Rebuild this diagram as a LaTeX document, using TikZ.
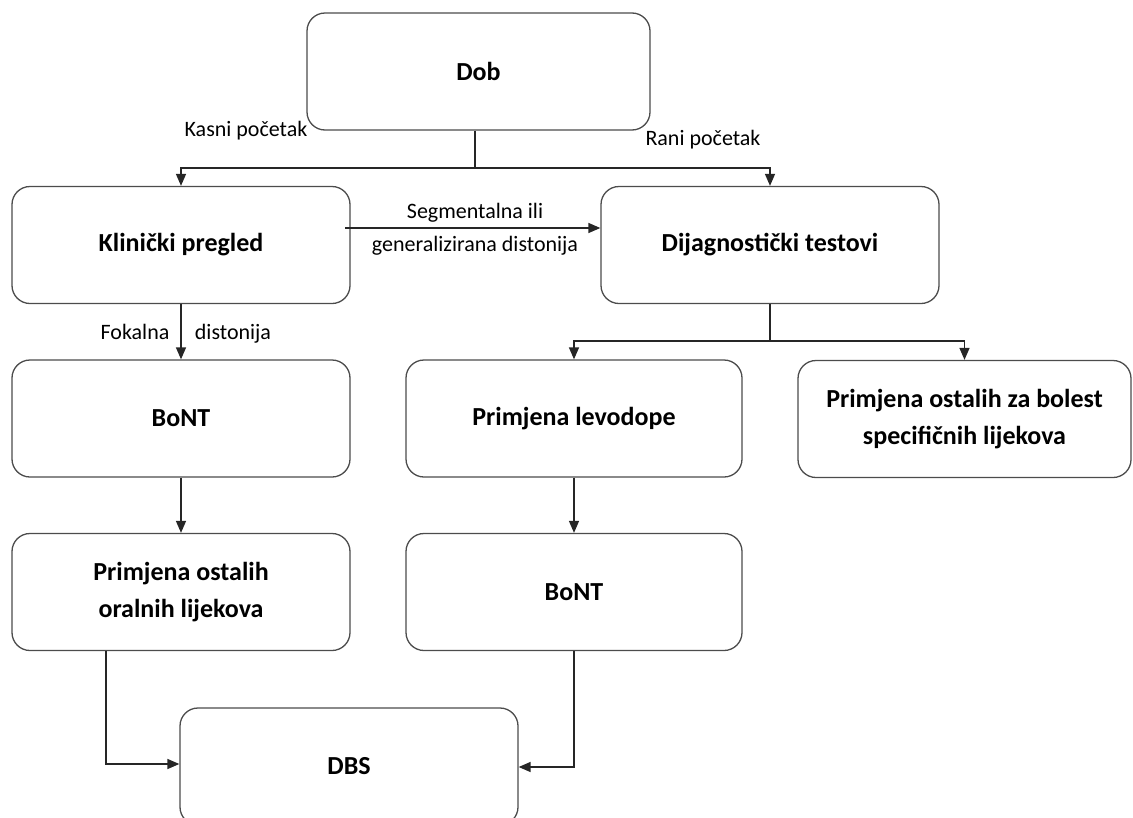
\documentclass[tikz,border=0pt]{standalone}
\usepackage{fontspec}
\setmainfont{Carlito}
\usetikzlibrary{arrows.meta}
\tikzset{
  box/.style={draw=black!70, line width=1.3pt, rounded corners=18pt, fill=white,
    minimum width=#1, minimum height=117pt, inner sep=0pt, align=center,
    font={\bfseries\fontsize{26}{37}\selectfont}},
  box/.default=338pt,
  lbl/.style={inner sep=0pt, text height=0.65em, text depth=0pt,
    font={\fontsize{22}{26}\selectfont}},
  conn/.style={draw=black!85, line width=1.5pt},
  arr/.style={conn, -{Triangle[length=12pt,width=10pt]}}
}
\begin{document}
\begin{tikzpicture}[x=1pt,y=-1pt]
\useasboundingbox (0,0) rectangle (1133,817);

% boxes
\node[box=343pt] (dob) at (478.5,71.5) {Dob};
\node[box] (klin) at (181,245) {Klinički pregled};
\node[box] (dij) at (770,245) {Dijagnostički testovi};
\node[box] (bont1) at (181,418.5) {BoNT};
\node[box=336pt] (levo) at (574,418.5) {Primjena levodope};
\node[box=333pt] (spec) at (964.5,419) {Primjena ostalih za bolest\\specifičnih lijekova};
\node[box] (oral) at (181,592) {Primjena ostalih\\oralnih lijekova};
\node[box=336pt] (bont2) at (574,592) {BoNT};
\node[box] (dbs) at (349,766.5) {DBS};

% labels
\node[lbl] (kasni) at (246,133) {Kasni početak};
\node[lbl] (rani) at (703,142) {Rani početak};
\node[lbl] (seg1) at (475,215) {Segmentalna ili};
\node[lbl] (seg2) at (475,248) {generalizirana distonija};
\node[lbl] (fok) at (135,336) {Fokalna};
\node[lbl] (dist) at (233,336) {distonija};

% connectors
\coordinate (j1) at (475,168);
\draw[conn] (dob.south -| j1) -- (j1);
\draw[arr] (j1) -| (klin.north);
\draw[arr] (j1) -| (dij.north);

\coordinate (h1) at (345,228);
\draw[arr] (h1) -- (dij.west |- h1);

\draw[arr] (klin.south) -- (bont1.north);
\draw[arr] (bont1.south) -- (oral.north);

\coordinate (j2) at (770,341);
\draw[conn] (dij.south) -- (j2);
\draw[arr] (j2) -| (levo.north);
\draw[arr] (j2) -| (spec.north);

\draw[arr] (levo.south) -- (bont2.north);

\coordinate (c1) at (106,764);
\draw[arr] (oral.south -| c1) |- (dbs.west |- c1);

\coordinate (c2) at (574,767);
\draw[arr] (bont2.south) |- (dbs.east |- c2);
\end{tikzpicture}
\end{document}
